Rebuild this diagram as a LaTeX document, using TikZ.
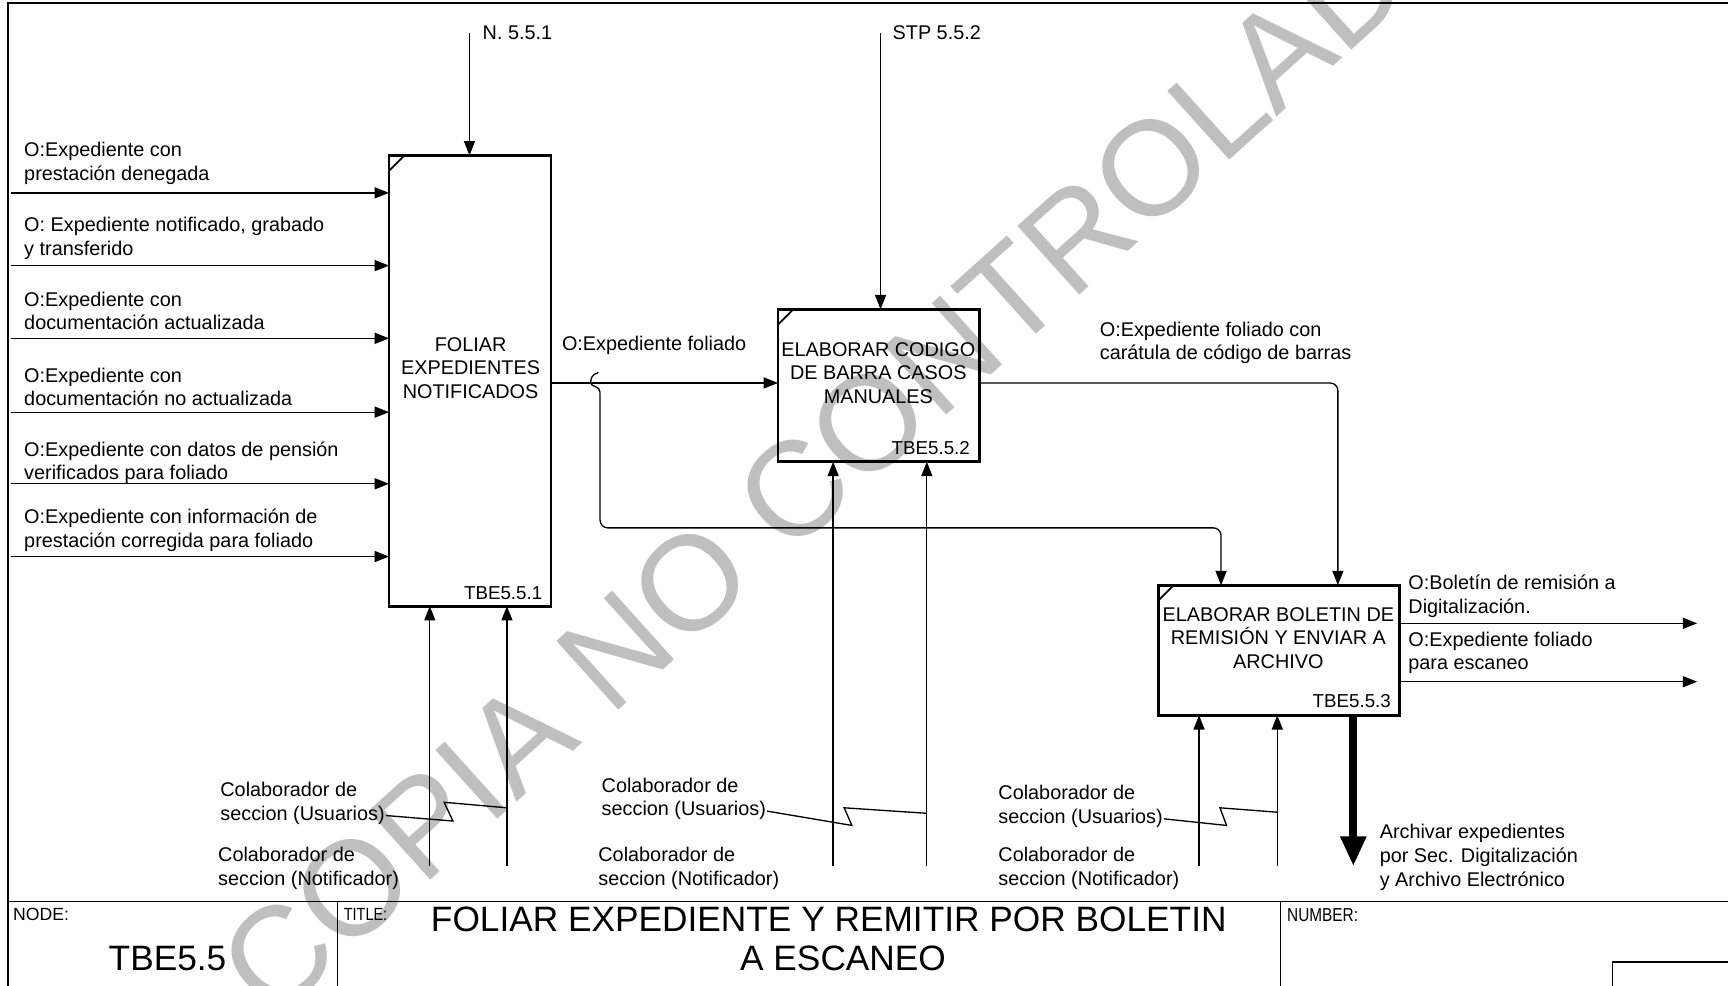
\documentclass[tikz,border=0pt]{standalone}
\usepackage{fontspec}
\setmainfont{Liberation Sans}
\newfontfamily\narrowfont[FakeStretch=0.82]{Liberation Sans}
\usetikzlibrary{arrows.meta,calc}
\begin{document}
\begin{tikzpicture}[x=1pt,y=-1pt,
  every node/.style={inner sep=0pt, outer sep=0pt},
  txt/.style={font=\fontsize{18}{21.5}\selectfont, align=left, anchor=west},
  boxtxt/.style={font=\fontsize{18}{21.5}\selectfont, align=center},
  idx/.style={font=\fontsize{17}{20}\selectfont, anchor=east},
  actbox/.style={draw, line width=2.6pt, anchor=north west},
  arr/.style={line width=1.2pt, -{Triangle[length=13pt,width=10pt]}},
  thin/.style={line width=1.2pt},
  wmark/.style={text=black!25, font=\fontsize{122}{122}\selectfont, rotate=42}
]
\useasboundingbox (0,0) rectangle (1568,894);
\clip (0,0) rectangle (1568,894);
\fill[white] (0,0) rectangle (1568,894);

% watermark
\node[wmark] (wm) at (768,402) {COPIA NO CONTROLADA};

% frame and title block
\draw[line width=1.6pt] (7,900) -- (7,3) -- (1580,3);
\coordinate (tb) at (7,818);
\draw[line width=1.3pt] (tb) -- (1580,818);
\draw[line width=1.2pt] (306,818) -- (306,900);
\draw[line width=1.2pt] (1162,818) -- (1162,900);
\draw[line width=1.2pt] (1580,873) -- (1463,873) -- (1463,900);
\node[font=\fontsize{16}{18}\selectfont, anchor=west] (nodelbl) at (12,830) {NODE:};
\node[font=\fontsize{32}{35}\selectfont] (nodenum) at (152,870) {TBE5.5};
\node[font=\narrowfont\fontsize{16}{18}\selectfont, anchor=west] (titlelbl) at (312,830) {TITLE:};
\node[font=\fontsize{32}{35}\selectfont, align=center] (title) at (752,852) {FOLIAR EXPEDIENTE Y REMITIR POR BOLETIN\\\hspace*{26pt}A ESCANEO};
\node[font=\narrowfont\fontsize{17}{19}\selectfont, anchor=west] (numlbl) at (1168,830) {NUMBER:};

% activity boxes
\node[actbox, minimum width=147pt, minimum height=409pt] (b1) at (353,141) {};
\node[actbox, minimum width=182.5pt, minimum height=138.4pt] (b2) at (706,280.6) {};
\node[actbox, minimum width=219pt, minimum height=118pt] (b3) at (1051,531) {};
\foreach \b in {b1,b2,b3}{
  \draw[line width=1.6pt] ($(\b.north west)+(0,14)$) -- ($(\b.north west)+(14,0)$);
}
\node[boxtxt] (t1) at (427,334) {FOLIAR\\EXPEDIENTES\\NOTIFICADOS};
\node[boxtxt] (t2) at (797,338.6) {ELABORAR CODIGO\\DE BARRA CASOS\\MANUALES};
\node[boxtxt] (t3) at (1160,579) {ELABORAR BOLETIN DE\\REMISIÓN Y ENVIAR A\\ARCHIVO};
\node[idx] (n1) at (492,538) {TBE5.5.1};
\node[idx] (n2) at (880,406.6) {TBE5.5.2};
\node[idx] (n3) at (1262,636) {TBE5.5.3};

% controls
\coordinate (c1) at (426,30);
\coordinate (c2) at (799,30);
\draw[arr] (c1) -- (c1 |- b1.north);
\draw[arr] (c2) -- (c2 |- b2.north);
\node[txt] (c1l) at (438,30) {N. 5.5.1};
\node[txt] (c2l) at (810,30) {STP 5.5.2};

% inputs to b1
\foreach \y [count=\i] in {175,241,307,374,439,505}{
  \coordinate (i\i) at (10,\y);
  \draw[arr] (i\i) -- (i\i -| b1.west);
}
\node[txt] (l1) at (22,148) {O:Expediente con\\prestación denegada};
\node[txt] (l2) at (22,216) {O: Expediente notificado, grabado\\y  transferido};
\node[txt] (l3) at (22,282) {O:Expediente con\\documentación actualizada};
\node[txt] (l4) at (22,351) {O:Expediente con\\documentación no actualizada};
\node[txt] (l5) at (22,420) {O:Expediente con datos de pensión\\verificados para foliado};
\node[txt] (l6) at (22,481) {O:Expediente con información de\\prestación corregida para foliado};

% b1 -> b2 and branch to b3
\coordinate (j1) at (544.5,347.5);
\draw[arr] (j1 -| b1.east) -- (j1 -| b2.west);
\node[txt] (o1l) at (510,313) {O:Expediente foliado};
\coordinate (k1) at (1108,479);
\draw[thin] (543,338) .. controls (537,340) and (536,343) .. (536,347.5)
  .. controls (536,351) and (544.5,350) .. (544.5,356);
\draw[arr, rounded corners=7pt] (544.5,356) -- (544.5,479) -- (k1) -- (k1 |- b3.north);

% b2 -> b3
\coordinate (k2) at (1214,347.5);
\draw[arr, rounded corners=7pt] (b2.east |- k2) -- (k2) -- (k2 |- b3.north);
\node[txt] (o2l) at (998,311) {O:Expediente foliado con\\carátula de código de barras};

% outputs of b3
\coordinate (e1) at (1540,565.6);
\coordinate (e2) at (1540,618.6);
\draw[arr] (e1 -| b3.east) -- (e1);
\draw[arr] (e2 -| b3.east) -- (e2);
\node[txt] (e1l) at (1278,541) {O:Boletín de remisión a\\Digitalización.};
\node[txt] (e2l) at (1278,592.5) {O:Expediente foliado\\para escaneo};

% call arrow
\coordinate (ca) at (1228,786);
\draw[line width=7pt, -{Triangle[length=27pt,width=22pt]}] (ca |- b3.south) -- (ca);
\node[txt] (cal) at (1252,778) {Archivar expedientes\\por Sec. Digitalización\\y  Archivo Electrónico};

% mechanisms
\foreach \x/\b in {390/b1,460/b1,756/b2,841/b2,1088/b3,1159/b3}{
  \coordinate (m\x) at (\x,786);
  \draw[arr] (m\x) -- (m\x |- \b.south);
}
\node[txt] (u1) at (200,729) {Colaborador de\\seccion (Usuarios)};
\node[txt] (u2) at (546,725) {Colaborador de\\seccion (Usuarios)};
\node[txt] (u3) at (906,732) {Colaborador de\\seccion (Usuarios)};
\node[txt] (p1) at (198,788) {Colaborador de\\seccion (Notificador)};
\node[txt] (p2) at (543,788) {Colaborador de\\seccion (Notificador)};
\node[txt] (p3) at (906,788) {Colaborador de\\seccion (Notificador)};
\draw[thin] ($(u1.east)+(1,11)$) -- (411,745) -- (403,728) -- (m460 |- 0,733);
\draw[thin] ($(u2.east)+(1,11)$) -- (773,749) -- (766,733) -- (m841 |- 0,738);
\draw[thin] ($(u3.east)+(1,11)$) -- (1113,749) -- (1107,733) -- (m1159 |- 0,737);
\end{tikzpicture}
\end{document}
